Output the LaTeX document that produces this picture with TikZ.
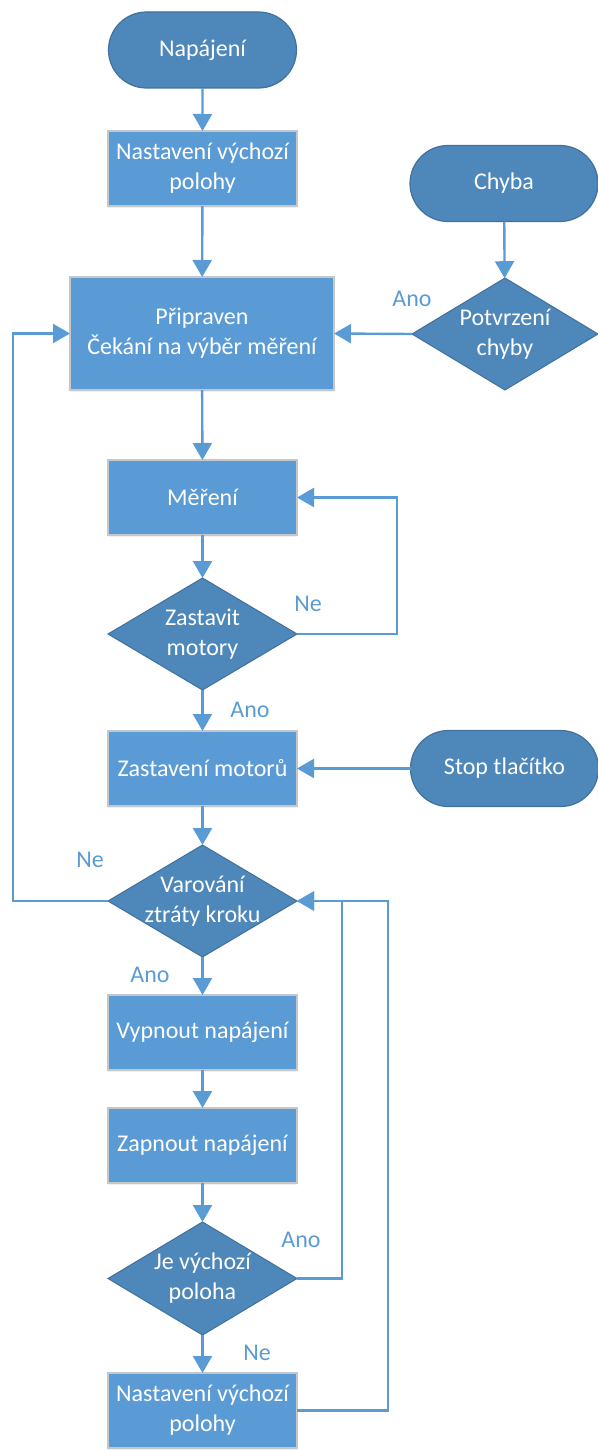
\documentclass[tikz,border=0pt]{standalone}
\usepackage{fontspec}
\setmainfont{Carlito}
\usetikzlibrary{shapes.geometric,shapes.misc,arrows.meta,shadows}
\definecolor{boxfill}{HTML}{5B9BD5}
\definecolor{darkfill}{HTML}{4E87BA}
\definecolor{darkline}{HTML}{41719C}
\definecolor{boxline}{HTML}{C4C8CC}
\definecolor{wire}{HTML}{5B9BD5}
\begin{document}
\begin{tikzpicture}[x=0.5pt,y=-0.5pt,
  every node/.style={font=\fontsize{12}{15}\selectfont, inner sep=0pt, outer sep=0pt},
  terminal/.style={rounded rectangle, fill=darkfill, draw=darkline, line width=0.6pt,
    minimum width=94pt, minimum height=38pt, text=white, align=center},
  procbox/.style={rectangle, fill=boxfill, draw=boxline, line width=0.9pt,
    minimum width=94.5pt, minimum height=37.5pt, text=white, align=center,
    drop shadow={shadow xshift=0pt, shadow yshift=-1.2pt, opacity=0.12}},
  decision/.style={diamond, fill=darkfill, draw=darkline, line width=0.5pt,
    minimum width=94.5pt, minimum height=56pt},
  dtext/.style={text=white, align=center},
  answer/.style={text=wire},
  arr/.style={draw=wire, line width=1.2pt, -{Triangle[length=8.5pt,width=9.5pt]}},
  wireline/.style={draw=wire, line width=1.2pt}]
\useasboundingbox (0,0) rectangle (598,1450);

% main column
\node[terminal] (nap) at (202.5,50) {Napájení};
\node[procbox] (nast1) at (202.5,168.5) {Nastavení výchozí\\polohy};
\node[procbox, minimum width=132pt, minimum height=56.5pt] (prip) at (202,333.5) {Připraven\\Čekání na výběr měření};
\node[procbox] (mer) at (202.5,497.5) {Měření};
\node[decision, label={[dtext]center:Zastavit\\motory}] (zast) at (202.5,634) {};
\node[procbox] (zm) at (202.5,768.5) {Zastavení motorů};
\node[decision, label={[dtext]center:Varování\\ztráty kroku}] (var) at (202.5,901) {};
\node[procbox] (vyp) at (202.5,1032.5) {Vypnout napájení};
\node[procbox] (zap) at (202.5,1145.5) {Zapnout napájení};
\node[decision, minimum height=56.5pt, label={[dtext]center:Je výchozí\\poloha}] (je) at (202.5,1278.5) {};
\node[procbox] (nast2) at (202.5,1410.5) {Nastavení výchozí\\polohy};

% right column
\node[terminal] (chyba) at (504,183.5) {Chyba};
\node[decision, minimum width=93pt, label={[dtext]center:Potvrzení\\chyby}] (potv) at (505,334) {};
\node[terminal] (stop) at (504.5,768.5) {Stop tlačítko};

% bend points of the feedback lines
\coordinate (cmer) at (397,497.5);
\coordinate (cprip) at (13,333.5);
\coordinate (cje) at (342,901);
\coordinate (cnast) at (388,901);

% straight flow
\draw[arr] (nap) -- (nast1);
\draw[arr] (nast1) -- (prip);
\draw[arr] (chyba) -- (potv);
\draw[arr] (potv.west) -- (prip.east);
\draw[arr] (prip) -- (mer);
\draw[arr] (mer) -- (zast.north);
\draw[arr] (zast.south) -- (zm.north);
\draw[arr] (stop.west) -- (zm.east);
\draw[arr] (zm) -- (var.north);
\draw[arr] (var.south) -- (vyp.north);
\draw[arr] (vyp) -- (zap);
\draw[arr] (zap) -- (je.north);
\draw[arr] (je.south) -- (nast2.north);

% loops
\draw[arr] (zast.east) -| (cmer) -- (mer.east);
\draw[arr] (var.west) -| (cprip) -- (prip.west);
\draw[arr] (je.east) -| (cje) -- (var.east);
\draw[arr] (nast2.east) -| (cnast) -- (var.east);

% branch labels
\node[answer] (a1) at (412,299) {Ano};
\node[answer] (n1) at (308,604) {Ne};
\node[answer] (a2) at (250,710) {Ano};
\node[answer] (n2) at (90,860) {Ne};
\node[answer] (a3) at (150,975) {Ano};
\node[answer] (a4) at (301,1240) {Ano};
\node[answer] (n3) at (257,1353) {Ne};
\end{tikzpicture}
\end{document}
